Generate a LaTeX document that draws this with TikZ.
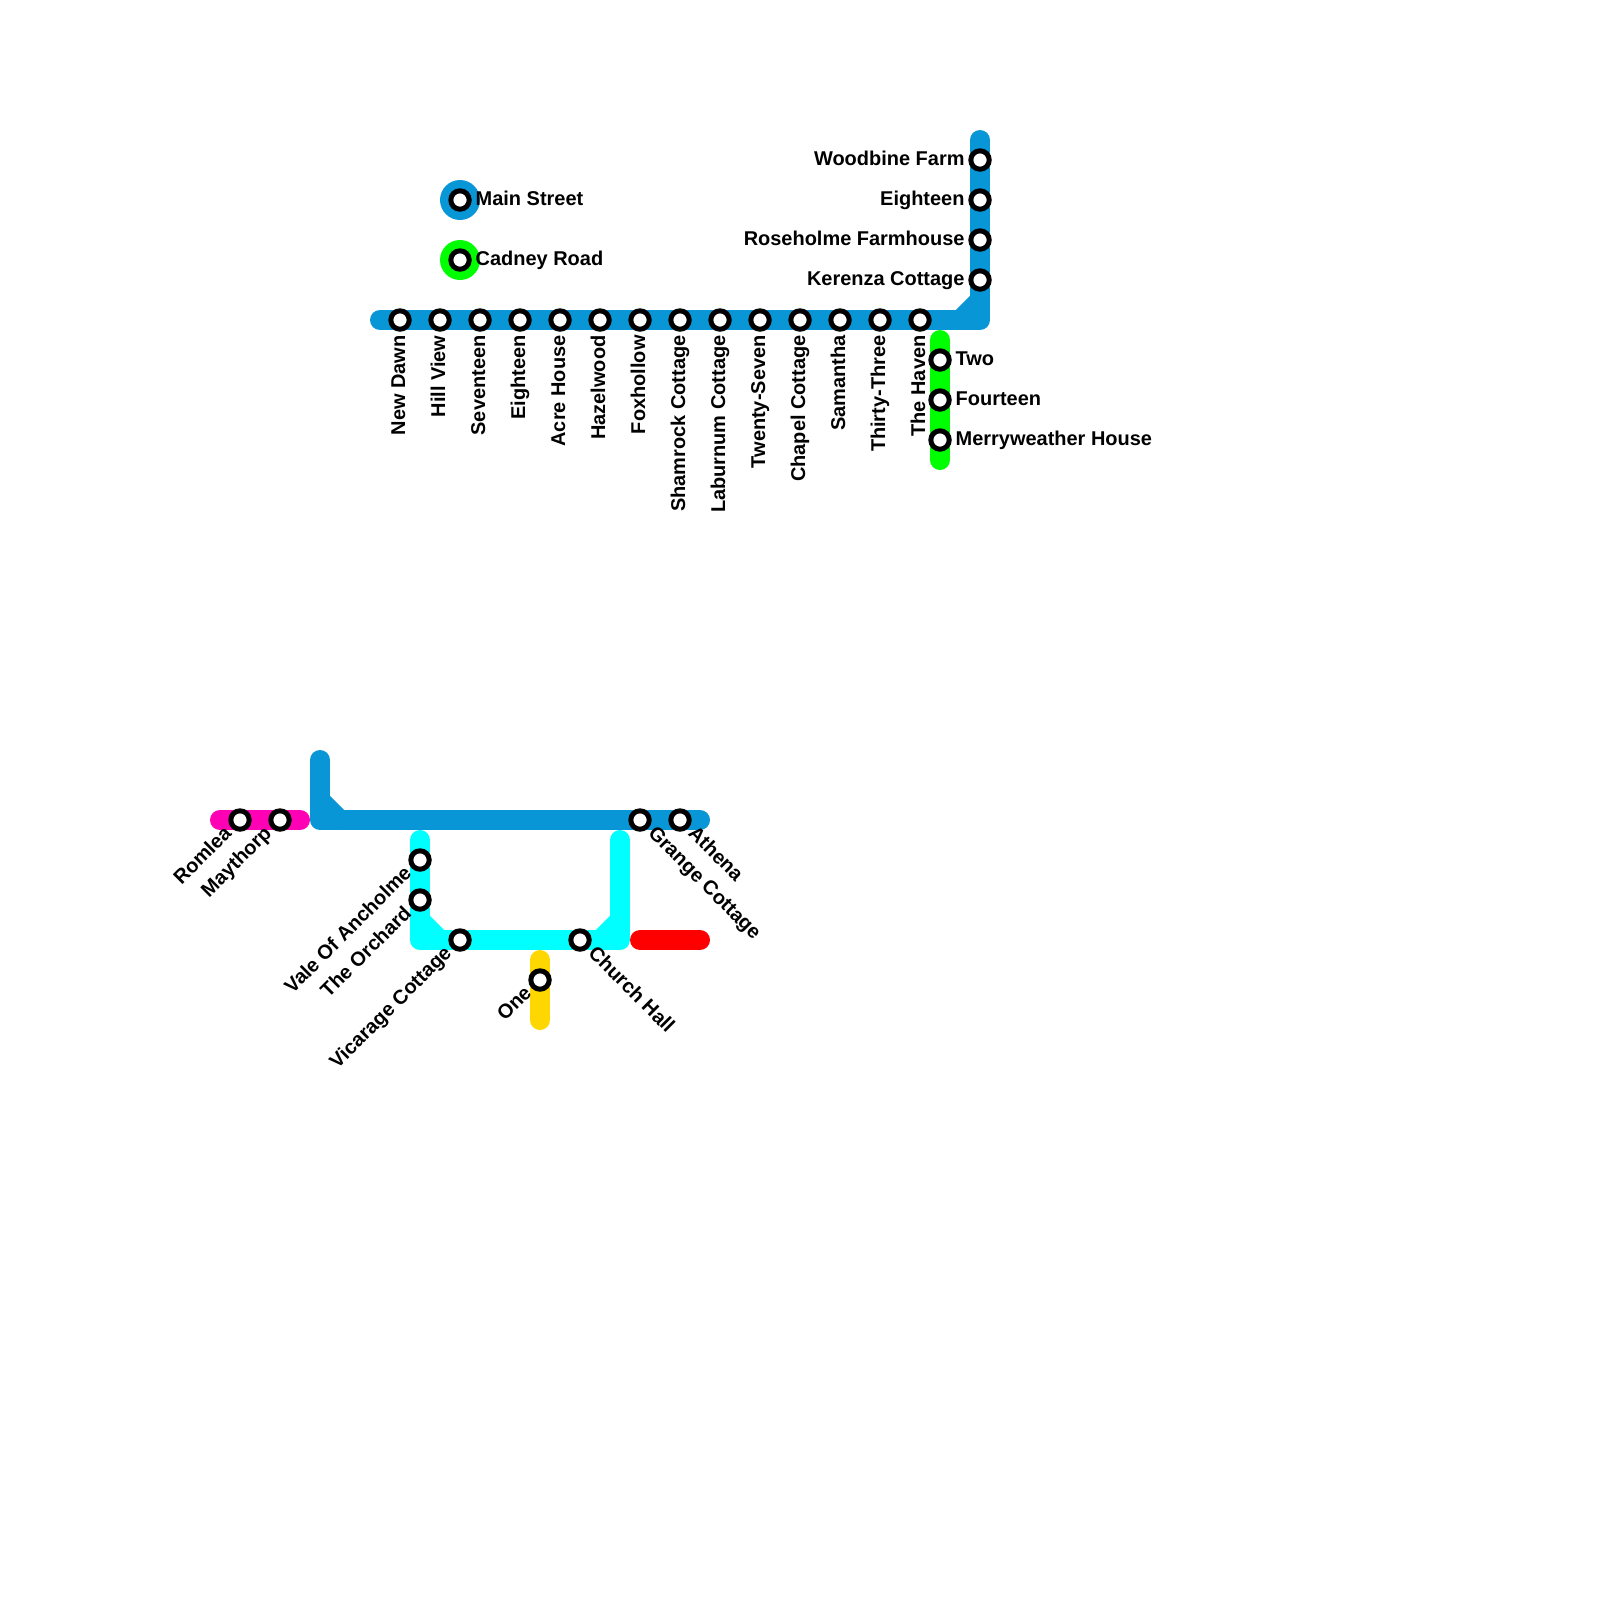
\documentclass[tikz,border=0pt]{standalone}
\usepackage{fontspec}
\usepackage{xcolor}
\usepackage{tikz}
\usetikzlibrary{positioning,backgrounds}
\setmainfont{Liberation Sans}
\definecolor{bluelin}{HTML}{0896D7}
\definecolor{greenlin}{HTML}{00FF00}
\definecolor{cyanlin}{HTML}{00FFFF}
\definecolor{redlin}{HTML}{FF0000}
\definecolor{yellowlin}{HTML}{FFD700}
\definecolor{pinklin}{HTML}{FF00B4}

\begin{document}
\begin{tikzpicture}[node distance=1.0cm,on grid]
  \tikzstyle{route}=[line width=0.5cm,line cap=round,line join=round]
  \tikzstyle{station}=[circle,draw=black,fill=white,line width=0.125cm,minimum size=0.46cm,inner sep=0pt]
  \tikzstyle{hub}=[circle,minimum size=1cm,inner sep=0pt]
  \tikzstyle{txt}=[font=\fontsize{14.2pt}{17pt}\selectfont\bfseries,inner sep=0pt]
  \tikzstyle{eastlbl}=[txt,anchor=base west,xshift=0.385cm,yshift=-0.125cm]
  \tikzstyle{westlbl}=[txt,anchor=base east,xshift=-0.38cm,yshift=-0.125cm]
  \tikzstyle{downlbl}=[txt,anchor=base east,rotate=90,xshift=-0.38cm,yshift=-0.125cm]
  \tikzstyle{swlbl}=[txt,anchor=base east,rotate=45,xshift=-0.38cm,yshift=-0.125cm]
  \tikzstyle{selbl}=[txt,anchor=base west,rotate=-45,xshift=0.38cm,yshift=-0.125cm]
  \useasboundingbox (0,0) rectangle (40,-40);
  % interchanges
  \node[hub,fill=bluelin] (mainhub) at (11.5,-5) {};
  \node[hub,fill=greenlin,below=1.5cm of mainhub] (cadneyhub) {};
  \node[station] (mainst) at (mainhub) {};
  \node[station] (cadney) at (cadneyhub) {};
  % top line
  \node[station] (newdawn) at (10,-8) {};
  \node[station,right=of newdawn] (hillview) {};
  \node[station,right=of hillview] (seventeen) {};
  \node[station,right=of seventeen] (eighteen) {};
  \node[station,right=of eighteen] (acre) {};
  \node[station,right=of acre] (hazelwood) {};
  \node[station,right=of hazelwood] (foxhollow) {};
  \node[station,right=of foxhollow] (shamrock) {};
  \node[station,right=of shamrock] (laburnum) {};
  \node[station,right=of laburnum] (twentyseven) {};
  \node[station,right=of twentyseven] (chapel) {};
  \node[station,right=of chapel] (samantha) {};
  \node[station,right=of samantha] (thirtythree) {};
  \node[station,right=of thirtythree] (haven) {};
  \node[station] (kerenza) at (24.5,-7) {};
  \node[station,above=of kerenza] (roseholme) {};
  \node[station,above=of roseholme] (eighteenb) {};
  \node[station,above=of eighteenb] (woodbine) {};
  \node[station] (two) at (23.5,-9) {};
  \node[station,below=of two] (fourteen) {};
  \node[station,below=of fourteen] (merry) {};
  % lower group
  \node[station] (romlea) at (6,-20.5) {};
  \node[station,right=of romlea] (maythorp) {};
  \node[station] (grange) at (16,-20.5) {};
  \node[station,right=of grange] (athena) {};
  \node[station] (vale) at (10.5,-21.5) {};
  \node[station,below=of vale] (orchard) {};
  \node[station] (vicarage) at (11.5,-23.5) {};
  \node[station,right=3cm of vicarage] (church) {};
  \node[station] (one) at (13.5,-24.5) {};
  % line ends and corners
  \coordinate[left=0.5cm of newdawn] (topw);
  \coordinate (topc) at (24.5,-8);
  \coordinate[above=0.5cm of woodbine] (topn);
  \coordinate[left=0.5cm of topc] (topdiaga);
  \coordinate[above=0.5cm of topc] (topdiagb);
  \coordinate[above=0.5cm of two] (greenn);
  \coordinate[below=0.5cm of merry] (greens);
  \coordinate[left=0.5cm of romlea] (pinkw);
  \coordinate[right=0.5cm of maythorp] (pinke);
  \coordinate (lown) at (8,-19);
  \coordinate (lowc) at (8,-20.5);
  \coordinate[right=0.5cm of athena] (lowe);
  \coordinate[above=0.5cm of lowc] (lowdiaga);
  \coordinate[right=0.5cm of lowc] (lowdiagb);
  \coordinate[above=0.5cm of vale] (cyann);
  \coordinate (cyanw) at (10.5,-23.5);
  \coordinate (cyane) at (15.5,-23.5);
  \coordinate (cyanm) at (15.5,-21);
  \coordinate[above=0.5cm of cyanw] (cyandiaga);
  \coordinate[right=0.5cm of cyanw] (cyandiagb);
  \coordinate[left=0.5cm of cyane] (cyandiagc);
  \coordinate[above=0.5cm of cyane] (cyandiagd);
  \coordinate (redw) at (16,-23.5);
  \coordinate (rede) at (17.5,-23.5);
  \coordinate[above=0.5cm of one] (yellown);
  \coordinate[below=1cm of one] (yellows);
  \begin{scope}[on background layer]
    \draw[route,draw=bluelin] (topw) -- (topc) -- (topn);
    \draw[route,draw=bluelin] (topdiaga) -- (topdiagb);
    \draw[route,draw=greenlin] (greenn) -- (greens);
    \draw[route,draw=pinklin] (pinkw) -- (pinke);
    \draw[route,draw=bluelin] (lown) -- (lowc) -- (lowe);
    \draw[route,draw=bluelin] (lowdiaga) -- (lowdiagb);
    \draw[route,draw=cyanlin] (cyann) -- (cyanw) -- (cyane) -- (cyanm);
    \draw[route,draw=cyanlin] (cyandiaga) -- (cyandiagb);
    \draw[route,draw=cyanlin] (cyandiagc) -- (cyandiagd);
    \draw[route,draw=redlin] (redw) -- (rede);
    \draw[route,draw=yellowlin] (yellown) -- (yellows);
  \end{scope}
  % labels
  \node[eastlbl] (mainstlbl) at (mainst) {Main Street};
  \node[eastlbl] (cadneylbl) at (cadney) {Cadney Road};
  \node[downlbl] (newdawnlbl) at (newdawn) {New Dawn};
  \node[downlbl] (hillviewlbl) at (hillview) {Hill View};
  \node[downlbl] (seventeenlbl) at (seventeen) {Seventeen};
  \node[downlbl] (eighteenlbl) at (eighteen) {Eighteen};
  \node[downlbl] (acrelbl) at (acre) {Acre House};
  \node[downlbl] (hazelwoodlbl) at (hazelwood) {Hazelwood};
  \node[downlbl] (foxhollowlbl) at (foxhollow) {Foxhollow};
  \node[downlbl] (shamrocklbl) at (shamrock) {Shamrock Cottage};
  \node[downlbl] (laburnumlbl) at (laburnum) {Laburnum Cottage};
  \node[downlbl] (twentysevenlbl) at (twentyseven) {Twenty-Seven};
  \node[downlbl] (chapellbl) at (chapel) {Chapel Cottage};
  \node[downlbl] (samanthalbl) at (samantha) {Samantha};
  \node[downlbl] (thirtythreelbl) at (thirtythree) {Thirty-Three};
  \node[downlbl] (havenlbl) at (haven) {The Haven};
  \node[westlbl] (woodbinelbl) at (woodbine) {Woodbine Farm};
  \node[westlbl] (eighteenblbl) at (eighteenb) {Eighteen};
  \node[westlbl] (roseholmelbl) at (roseholme) {Roseholme Farmhouse};
  \node[westlbl] (kerenzalbl) at (kerenza) {Kerenza Cottage};
  \node[eastlbl] (twolbl) at (two) {Two};
  \node[eastlbl] (fourteenlbl) at (fourteen) {Fourteen};
  \node[eastlbl] (merrylbl) at (merry) {Merryweather House};
  \node[swlbl] (romlealbl) at (romlea) {Romlea};
  \node[swlbl] (maythorplbl) at (maythorp) {Maythorp};
  \node[swlbl] (valelbl) at (vale) {Vale Of Ancholme};
  \node[swlbl] (orchardlbl) at (orchard) {The Orchard};
  \node[swlbl] (vicaragelbl) at (vicarage) {Vicarage Cottage};
  \node[swlbl] (onelbl) at (one) {One};
  \node[selbl] (churchlbl) at (church) {Church Hall};
  \node[selbl] (grangelbl) at (grange) {Grange Cottage};
  \node[selbl] (athenalbl) at (athena) {Athena};
\end{tikzpicture}
\end{document}
